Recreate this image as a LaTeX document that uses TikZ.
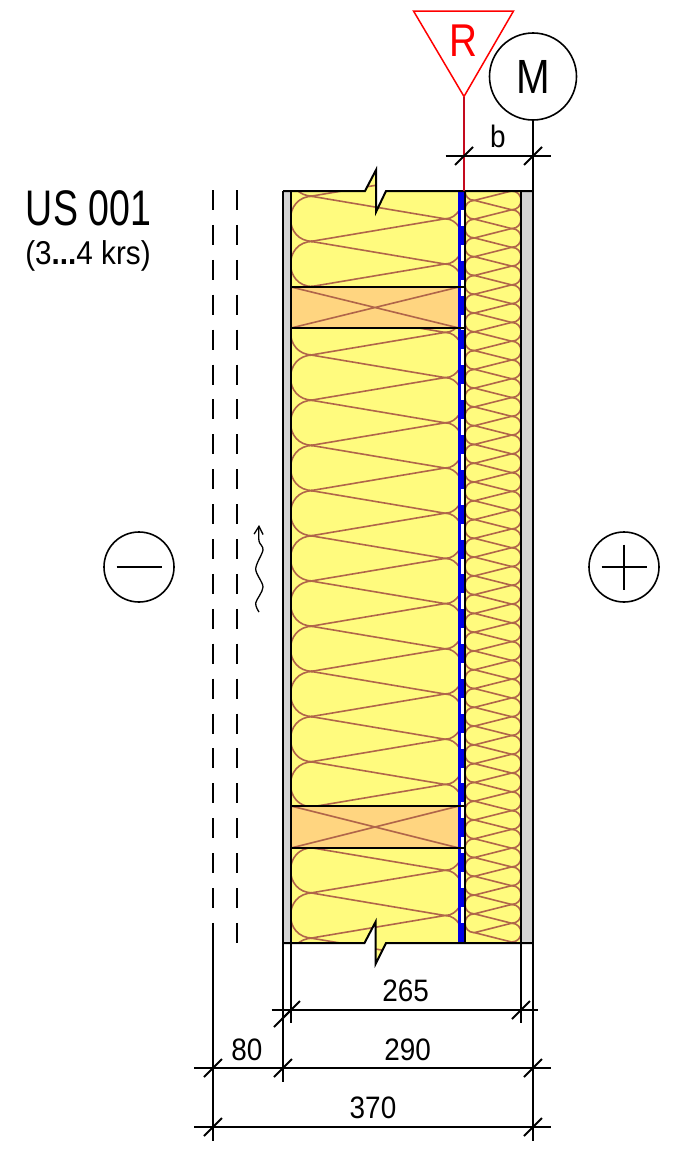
\documentclass[tikz,border=0pt]{standalone}
\usepackage{fontspec}
\setmainfont{Liberation Sans}
\newfontfamily\labelfont[FakeStretch=0.75]{Liberation Sans}
\newfontfamily\signfont[FakeStretch=0.84]{Liberation Sans}
\newfontfamily\dimfont[FakeStretch=0.9]{Liberation Sans}
\usetikzlibrary{arrows.meta}
\definecolor{woolfill}{HTML}{FFFB7E}
\definecolor{woolbrown}{HTML}{B0654A}
\definecolor{studfill}{HTML}{FFD580}
\definecolor{skingray}{HTML}{D4D4D4}
\definecolor{foilblue}{HTML}{0000E6}
\definecolor{darkred}{HTML}{C40A1E}
\tikzset{
  wall/.style={line width=2pt,line join=miter},
  dimline/.style={line width=1.8pt},
  woolline/.style={line width=1.6pt,draw=woolbrown},
  airgap/.style={line width=2pt,dash pattern=on 20pt off 14.9pt},
  dimlabel/.style={font=\dimfont\fontsize{31}{31}\selectfont,anchor=base,inner sep=0pt},
  signcircle/.style={circle,draw,line width=1.6pt,minimum size=70pt,inner sep=0pt}
}
\newcommand\woolrun[3]{%
  \begin{scope}
    \clip #1;
    \foreach \k in {0,...,#3}{
      \pgfmathsetmacro\yl{#2+45.2*\k}
      \pgfmathsetmacro\yr{\yl+22.6}
      \pgfmathsetmacro\yn{\yl+45.2}
      \draw[woolline] (311,\yl) -- (445,\yr) -- (311,\yn);
      \draw[woolline] (313,\yl) .. controls (283,\yl) and (283,\yn) .. (313,\yn);
      \draw[woolline] (459,\yr-8) .. controls (456,\yr-4) and (452,\yr) .. (445,\yr)
        .. controls (452,\yr) and (456,\yr+4) .. (459,\yr+8);
    }
  \end{scope}}
\def\wooltop{(291,191) -- (365,191) -- (376,170) -- (376,212) -- (386,191) -- (459,191) -- (459,287) -- (291,287) -- cycle}
\def\woolmid{(291,328) rectangle (459,806)}
\def\woolbot{(291,848) -- (459,848) -- (459,943) -- (386,943) -- (375.5,964) -- (375.5,922) -- (364.5,943) -- (291,943) -- cycle}
\begin{document}
\begin{tikzpicture}[x=1pt,y=-1pt]
\useasboundingbox (0,0) rectangle (691,1159);

% skins and fills
\fill[skingray] (282.5,191) rectangle (291,943);
\fill[skingray] (521,191) rectangle (533,943);
\fill[woolfill] \wooltop;
\fill[woolfill] \woolmid;
\fill[woolfill] \woolbot;
\fill[woolfill] (464,191) rectangle (521,943);
\fill[studfill] (291,287) rectangle (459,328);
\fill[studfill] (291,806) rectangle (459,848);
\fill[white] (459,191) rectangle (464,943);

% main insulation
\woolrun{\wooltop}{151}{3}
\woolrun{\woolmid}{309.8}{11}
\woolrun{\woolbot}{802.5}{3}
\draw[woolline] (291,287) -- (459,328) (291,328) -- (459,287);
\draw[woolline] (291,806) -- (459,848) (291,848) -- (459,806);

% thin insulation
\begin{scope}
\clip (464.5,191) rectangle (521,943);
\foreach \k in {0,...,40}{
  \pgfmathsetmacro\yr{942-18.775*\k}
  \pgfmathsetmacro\yl{\yr-9.39}
  \pgfmathsetmacro\yn{\yr-18.775}
  \pgfmathsetmacro\ym{\yl-18.775}
  \draw[woolline] (511.6,\yr) -- (474.4,\yl) -- (511.6,\yn);
  \draw[woolline] (511.6,\yr) .. controls (524.1,\yr) and (524.1,\yn) .. (511.6,\yn);
  \draw[woolline] (474.4,\yl) .. controls (461.9,\yl) and (461.9,\ym) .. (474.4,\ym);
}
\end{scope}

% foil
\draw[foilblue,line width=2.2pt] (459.4,191) -- (459.4,943);
\draw[foilblue,line width=3.4pt,dash pattern=on 19pt off 15.85pt] (462,191) -- (462,943);

% wall lines
\draw[wall] (291,287) -- (464,287) (291,328) -- (464,328);
\draw[wall] (291,806) -- (464,806) (291,848) -- (464,848);
\draw[wall] (283,191) -- (365,191) -- (376,170) -- (376,212) -- (386,191) -- (533,191);
\draw[wall] (283,943) -- (364.5,943) -- (375.5,922) -- (375.5,964) -- (386,943) -- (533,943);
\draw[wall] (283,191) -- (283,943) (291,191) -- (291,943) (521,191) -- (521,943);
\draw[line width=1.4pt] (465,191) -- (465,943);

% air gap lines
\coordinate (gapA) at (213,190);
\coordinate (gapB) at (237,190);
\draw[airgap] (gapA) -- (213,923);
\draw[airgap] (gapB) -- (237,943);
\draw[->,>={Straight Barb[length=8pt,width=9pt]},line width=1.3pt] plot[smooth] coordinates {(259,612) (255.7,603) (263,587) (255.7,569) (263,550) (259,541) (259,525)};

% signs
\node[signcircle] (minus) at (139,567) {};
\draw[line width=2pt] (116.5,567) -- (161.5,567);
\node[signcircle] (plus) at (624,567) {};
\draw[line width=1.6pt] (601.5,567) -- (646.5,567) (624,544.5) -- (624,589.5);

% markers
\coordinate (apex) at (464,96.5);
\coordinate (foot) at (464,191);
\draw[red,line width=1.5pt,line join=miter] (413.5,11) -- (513.5,11) -- (apex) -- cycle;
\draw[darkred,line width=2pt] (apex) -- (foot);
\node[font=\signfont\fontsize{46}{46}\selectfont,text=red,anchor=base,inner sep=0pt] (rlabel) at (463,56.7) {R};
\node[circle,draw,line width=1.6pt,minimum size=87pt,inner sep=0pt] (mcircle) at (533,76.5) {};
\node[font=\signfont\fontsize{48}{48}\selectfont,anchor=base,inner sep=0pt] (mlabel) at (533,93) {M};
\coordinate (mfoot) at (533,1140.5);
\draw[wall] (mcircle) -- (mfoot);

% title
\node[font=\labelfont\fontsize{50}{50}\selectfont,anchor=base,inner sep=0pt] (title) at (88.5,225) {US 001};
\node[font=\dimfont\fontsize{33}{33}\selectfont,anchor=base,inner sep=0pt] (subtitle) at (88,264) {(3\textbf{...}4 krs)};

% dimensions
\draw[dimline] (283,943) -- (283,1081.5);
\draw[dimline] (291,943) -- (291,1023);
\draw[dimline] (521,943) -- (521,1023);
\draw[dimline] (213,923) -- (213,1140.5);
\draw[wall] (445.5,156) -- (551,156);
\draw[wall] (271.5,1010) -- (537.5,1010);
\draw[wall] (194,1068) -- (551,1068);
\draw[wall] (194,1127) -- (551,1127);
\foreach \x/\y in {464/156,533/156,291/1010,283/1018,521/1010,213/1068,283/1068,533/1068,213/1127,533/1127}{
  \draw[dimline] (\x-9,\y+9) -- (\x+9,\y-9);
}
\node[dimlabel] (dimb) at (498,147.7) {b};
\node[dimlabel] (dimA) at (405.7,1001.7) {265};
\node[dimlabel] (dimB) at (247,1060) {80};
\node[dimlabel] (dimC) at (407.7,1060) {290};
\node[dimlabel] (dimD) at (373,1118) {370};

\end{tikzpicture}
\end{document}
